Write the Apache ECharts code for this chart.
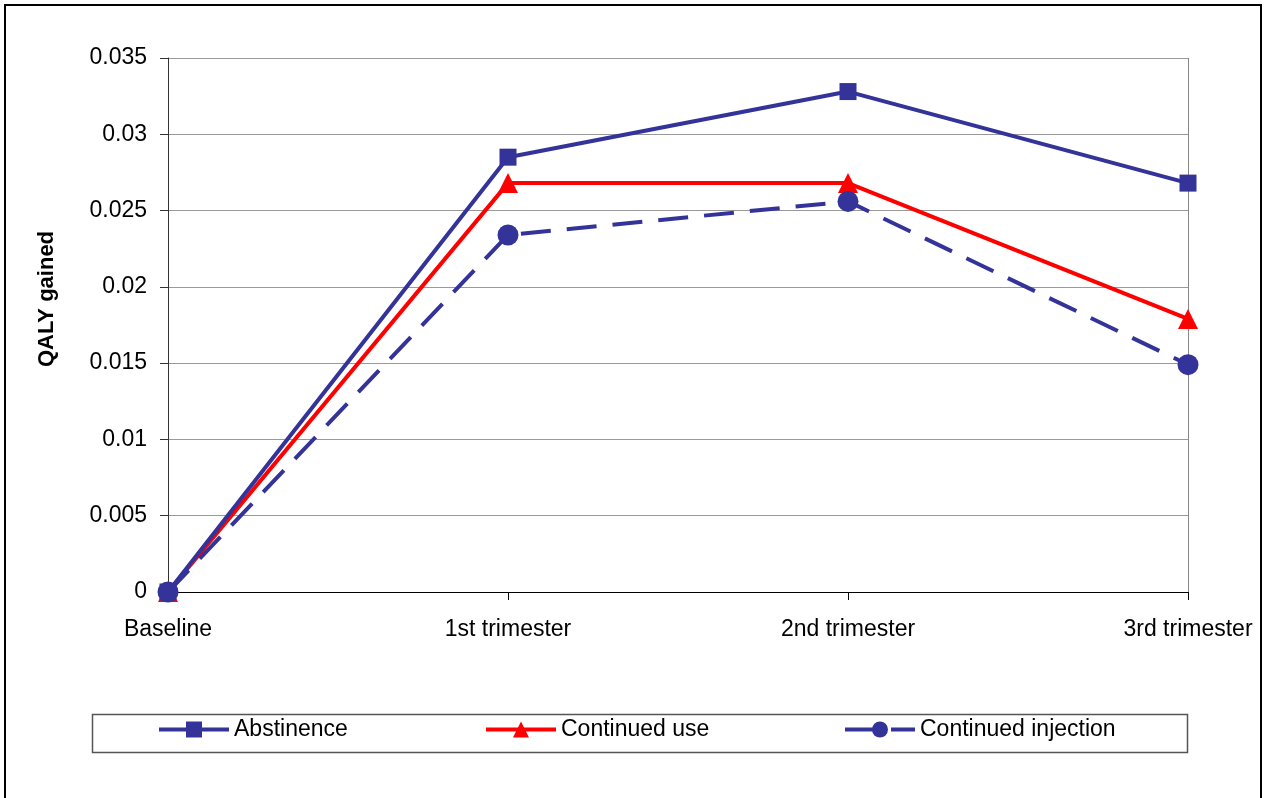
<!DOCTYPE html>
<html>
<head>
<meta charset="utf-8">
<script src="https://cdn.jsdelivr.net/npm/echarts@6/dist/echarts.min.js"></script>
<style>
html,body{margin:0;padding:0;background:#fff;overflow:hidden;}
#frame{position:absolute;left:4px;top:4px;width:1254px;height:900px;border:2px solid #000;border-bottom:none;}
#chart{position:absolute;left:0;top:0;width:1275px;height:798px;}
</style>
</head>
<body>
<div id="frame"></div>
<div id="chart"></div>
<script>
const categories = ['Baseline', '1st trimester', '2nd trimester', '3rd trimester'];
const abstinence = [0, 0.0285, 0.0328, 0.0268];
const continuedUse = [0, 0.0268, 0.0268, 0.0179];
const continuedInjection = [0, 0.0234, 0.0256, 0.0149];
const yTicks = [0, 0.005, 0.01, 0.015, 0.02, 0.025, 0.03, 0.035];

const BLUE = '#333399', RED = '#FF0000';
const FONT = 'Liberation Sans, Arial, sans-serif';

const chart = echarts.init(document.getElementById('chart'), null, {renderer: 'canvas'});
const legendBase = {
  top: 718, itemWidth: 70, itemHeight: 20, itemGap: 5,
  textStyle: {fontFamily: FONT, fontSize: 23, color: '#000'},
  lineStyle: {width: 4},
  padding: 0
};
chart.setOption({
  backgroundColor: 'transparent',
  animation: false,
  grid: {left: 168, right: 87, top: 58, bottom: 206, containLabel: false},
  xAxis: {
    type: 'category', data: categories, boundaryGap: false,
    axisLine: {lineStyle: {color: '#000', width: 1}},
    axisTick: {show: true, length: 8, lineStyle: {color: '#000'}},
    axisLabel: {fontFamily: FONT, fontSize: 23, color: '#000', margin: 26},
    splitLine: {show: true, interval: function(i){ return i === 3; }, lineStyle: {color: '#888', width: 1}}
  },
  yAxis: {
    type: 'value', min: 0, max: 0.035, interval: 0.005,
    axisLine: {show: true, lineStyle: {color: '#333', width: 1}},
    axisTick: {show: true, length: 8, lineStyle: {color: '#333'}},
    axisLabel: {fontFamily: FONT, fontSize: 23, color: '#000', margin: 21,
      formatter: function(v){ const t = yTicks.find(x => Math.abs(x - v) < 1e-9); return String(+(t !== undefined ? t : v).toFixed(3)); }},
    splitLine: {show: true, lineStyle: {color: '#999', width: 1}}
  },
  legend: [
    Object.assign({}, legendBase, {left: 157, data: ['Abstinence']}),
    Object.assign({}, legendBase, {left: 484, data: ['Continued use']}),
    Object.assign({}, legendBase, {left: 843, data: ['Continued injection']})
  ],
  graphic: [{
    type: 'rect', left: 90, top: 712, shape: {x: 0, y: 0, width: 1095, height: 38},
    style: {fill: 'none', stroke: '#555', lineWidth: 1.5}, silent: true, z: -1
  }, {
    type: 'text', x: 47, y: 299, rotation: Math.PI / 2,
    style: {text: 'QALY gained', fontFamily: FONT, fontSize: 22, fontWeight: 'bold', fill: '#000',
      align: 'center', verticalAlign: 'middle'},
    silent: true
  }],
  series: [
    {name: 'Abstinence', type: 'line', data: abstinence, symbol: 'rect', symbolSize: 17,
      lineStyle: {color: BLUE, width: 4}, itemStyle: {color: BLUE}, z: 3},
    {name: 'Continued use', type: 'line', data: continuedUse, symbol: 'triangle', symbolSize: 20,
      lineStyle: {color: RED, width: 4}, itemStyle: {color: RED}, z: 2},
    {name: 'Continued injection', type: 'line', data: continuedInjection, symbol: 'circle', symbolSize: 21,
      lineStyle: {color: BLUE, width: 4, type: [30, 16]}, itemStyle: {color: BLUE}, z: 4}
  ]
});
</script>
</body>
</html>
